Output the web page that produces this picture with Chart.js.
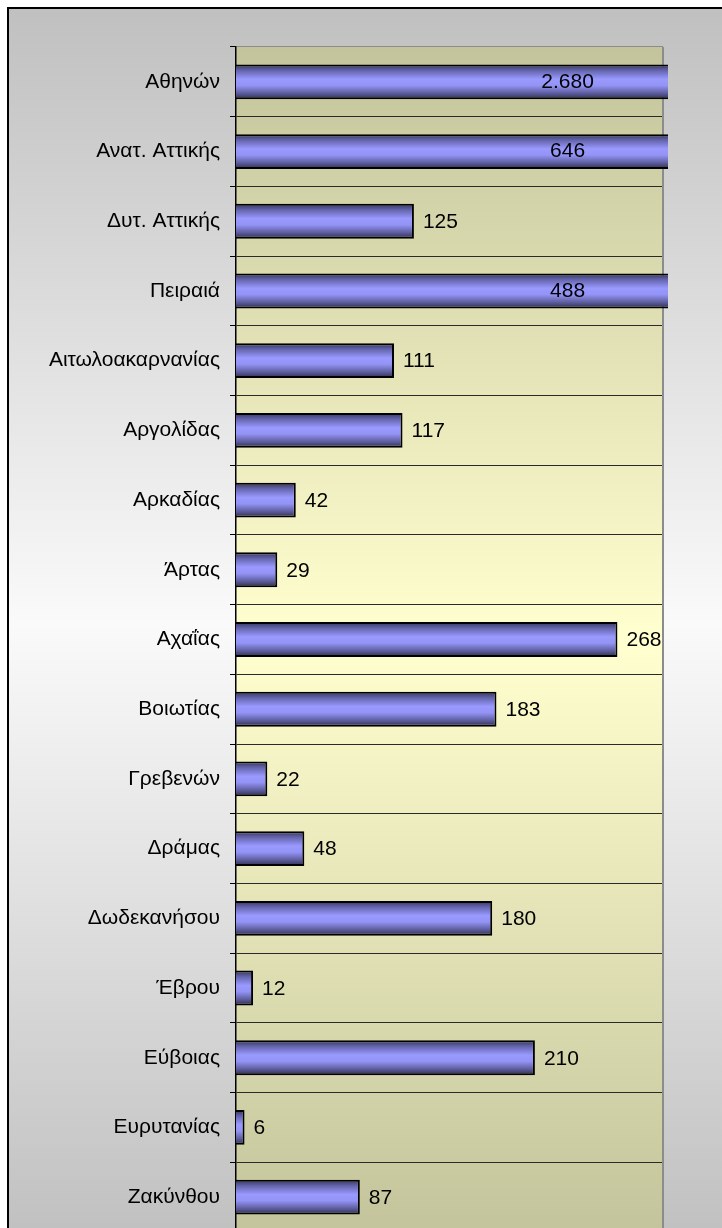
<!DOCTYPE html>
<html>
<head>
<meta charset="utf-8">
<style>
html, body { margin: 0; padding: 0; background: #fff; }
#wrap { width: 722px; height: 1228px; overflow: hidden; }
canvas { display: block; }
</style>
<script src="https://cdn.jsdelivr.net/npm/chart.js"></script>
</head>
<body>
<div id="wrap"><canvas id="prefChart" width="722" height="1240"></canvas></div>
<script>
const prefectures = ['Αθηνών', 'Ανατ. Αττικής', 'Δυτ. Αττικής', 'Πειραιά', 'Αιτωλοακαρνανίας',
    'Αργολίδας', 'Αρκαδίας', 'Άρτας', 'Αχαΐας', 'Βοιωτίας', 'Γρεβενών', 'Δράμας',
    'Δωδεκανήσου', 'Έβρου', 'Εύβοιας', 'Ευρυτανίας', 'Ζακύνθου'];
const totals = [2680, 646, 125, 488, 111, 117, 42, 29, 268, 183, 22, 48, 180, 12, 210, 6, 87];
const axisMax = 300;

const FONT = '"Liberation Sans", Arial, sans-serif';

// 2680 -> "2.680"
function fmt(v) {
    return String(v).replace(/\B(?=(\d{3})+(?!\d))/g, '.');
}

// cylinder-like shading across each bar
function barFill(context) {
    const chart = context.chart;
    const yScale = chart.scales.y;
    if (!chart.chartArea || !yScale || context.dataIndex === undefined) return '#9999ff';
    const yc = yScale.getPixelForValue(context.dataIndex);
    const half = 17.5;
    const g = chart.ctx.createLinearGradient(0, yc - half, 0, yc + half);
    g.addColorStop(0, '#33335a');
    g.addColorStop(0.18, '#6565ae');
    g.addColorStop(0.42, '#9999ff');
    g.addColorStop(0.6, '#9494f6');
    g.addColorStop(0.82, '#5e5ea0');
    g.addColorStop(1, '#2c2c4a');
    return g;
}

const backdrop = {
    id: 'backdrop',
    beforeDraw(chart) {
        const { ctx, width, height, chartArea: a } = chart;
        ctx.save();
        ctx.fillStyle = '#fff';
        ctx.fillRect(0, 0, width, height);
        const outer = ctx.createLinearGradient(0, 8, 0, height);
        outer.addColorStop(0, '#c0c0c0');
        outer.addColorStop(0.5, '#fafafa');
        outer.addColorStop(1, '#c0c0c0');
        ctx.fillStyle = outer;
        ctx.fillRect(8, 8, width - 8, height - 8);
        ctx.fillStyle = '#000';
        ctx.fillRect(7, 7, 2, height - 7);
        ctx.fillRect(7, 7, width - 7, 2);

        const plot = ctx.createLinearGradient(0, a.top, 0, a.bottom);
        plot.addColorStop(0, '#c4c49c');
        plot.addColorStop(0.5, '#ffffcf');
        plot.addColorStop(1, '#c4c49c');
        ctx.fillStyle = plot;
        ctx.fillRect(a.left, a.top, a.right - a.left, a.bottom - a.top);
        ctx.restore();
    },
    beforeDatasetsDraw(chart) {
        const { ctx, chartArea: a } = chart;
        ctx.save();
        ctx.strokeStyle = '#8c8c8c';
        ctx.lineWidth = 2;
        ctx.beginPath();
        ctx.moveTo(a.right, a.top);
        ctx.lineTo(a.right, a.bottom);
        ctx.stroke();
        ctx.restore();
    }
};

const valueLabels = {
    id: 'valueLabels',
    afterDatasetsDraw(chart) {
        const ctx = chart.ctx;
        const meta = chart.getDatasetMeta(0);
        const xScale = chart.scales.x;
        ctx.save();
        ctx.font = '21px ' + FONT;
        ctx.fillStyle = '#000';
        ctx.textBaseline = 'middle';
        meta.data.forEach((bar, i) => {
            const v = totals[i];
            if (v > axisMax) {
                ctx.textAlign = 'center';
                ctx.fillText(fmt(v), xScale.getPixelForValue(233), bar.y);
            } else {
                ctx.textAlign = 'left';
                ctx.fillText(fmt(v), bar.x + 9, bar.y + 1);
            }
        });
        ctx.restore();
    }
};

new Chart(document.getElementById('prefChart'), {
    type: 'bar',
    data: {
        labels: prefectures,
        datasets: [{
            data: totals,
            backgroundColor: barFill,
            borderColor: '#000',
            borderWidth: 2,
            categoryPercentage: 1,
            barPercentage: 0.5,
            clip: { left: 0, top: 0, right: 5, bottom: 0 }
        }]
    },
    options: {
        indexAxis: 'y',
        responsive: false,
        animation: false,
        layout: { padding: { top: 47, right: 59, bottom: 8, left: 0 } },
        plugins: {
            legend: { display: false },
            tooltip: { enabled: false }
        },
        scales: {
            x: { display: false, min: 0, max: axisMax },
            y: {
                afterFit(scale) {
                    scale.width = 236;
                    scale.paddingTop = 0;
                    scale.paddingBottom = 0;
                },
                grid: {
                    offset: true,
                    color: c => c.index === 0 ? '#8c8c8c' : '#2a2a2a',
                    lineWidth: 1,
                    tickLength: 6,
                    tickColor: '#000'
                },
                border: { color: '#000', width: 1.5 },
                ticks: {
                    color: '#000',
                    font: { family: FONT, size: 21 },
                    padding: 10,
                    autoSkip: false
                }
            }
        }
    },
    plugins: [backdrop, valueLabels]
});
</script>
</body>
</html>
